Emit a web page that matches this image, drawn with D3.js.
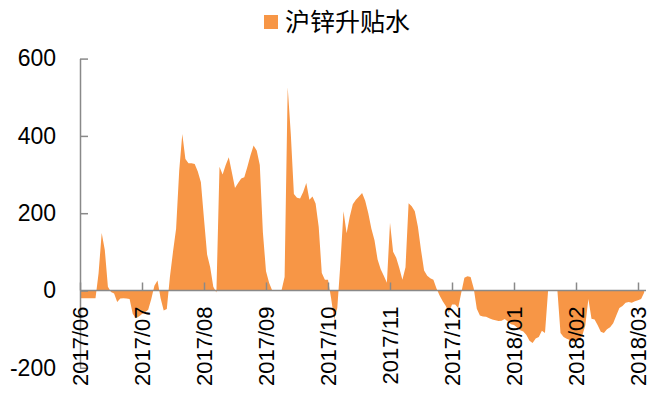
<!DOCTYPE html>
<html>
<head>
<meta charset="utf-8">
<script src="https://cdn.jsdelivr.net/npm/d3@7"></script>
<style>
  html, body { margin: 0; padding: 0; background: #fff; }
  svg { display: block; }
</style>
</head>
<body>
<svg id="chart" width="647" height="401"></svg>
<script>
// Series name shown in the legend
const seriesName = "沪锌升贴水";

// Month labels, one every `pointsPerMonth` observations
const monthLabels = ["2017/06", "2017/07", "2017/08", "2017/09", "2017/10",
                     "2017/11", "2017/12", "2018/01", "2018/02", "2018/03"];
const pointsPerMonth = 20;

// Value axis ticks
const yTicks = [-200, 0, 200, 400, 600];

// Daily premium / discount (元/吨)
const values = [
  -20, -20, -20, -20, -20, -20, 45, 149, 105, 10,
  -4, -8, -30, -21, -20, -21, -22, -60, -72, -67,
  -61, -56, -50, -22, 12, 26, -20, -52, -48, 35,
  100, 160, 310, 405, 340, 329, 329, 327, 308, 280,
  185, 93, 60, 10, -5, 320, 300, 325, 345, 305,
  265, 278, 290, 293, 320, 350, 375, 362, 325, 150,
  50, 20, 0, 0, 0, 0, 35, 526, 405, 250,
  240, 238, 255, 278, 235, 243, 225, 165, 45, 28,
  28, -20, -75, -45, 70, 205, 148, 190, 223, 235,
  243, 252, 232, 200, 160, 130, 80, 55, 38, 20,
  175, 100, 85, 58, 28, 60, 226, 218, 205, 165,
  105, 52, 38, 32, 28, 5, -13, -28, -40, -58,
  -36, -36, -45, -5, 33, 37, 35, 6, -47, -65,
  -67, -68, -72, -75, -77, -79, -78, -74, -80, -87,
  -89, -96, -103, -106, -115, -130, -136, -124, -120, -104,
  -110, 0, 0, 0, 0, -110, -120, -125, -128, -133,
  -130, -128, -118, -90, -22, -73, -75, -90, -107, -110,
  -100, -95, -85, -65, -45, -40, -32, -30, -32, -28,
  -25, -22, -5
];

const W = 647, H = 401;
const fill = "#F79646";
const axisColor = "#898989";
const font = "'Liberation Sans', Arial, sans-serif";

const svg = d3.select("#chart");

const lastTick = (monthLabels.length - 1) * pointsPerMonth;
const x = d3.scaleLinear().domain([0, lastTick]).range([80, 638]);
const y = d3.scaleLinear().domain([-200, 600]).range([367.8, 58.6]);

// Area between the zero line and the series
const area = d3.area()
  .x((d, i) => x(i))
  .y0(y(0))
  .y1(d => y(d));

svg.append("path")
  .datum(values)
  .attr("d", area)
  .attr("fill", fill);

// Value axis (ticks point into the plot)
const yAxis = svg.append("g")
  .attr("transform", `translate(${x(0)},0)`)
  .call(d3.axisLeft(y).tickValues(yTicks).tickSize(-8).tickSizeOuter(0).tickPadding(24)
    .tickFormat(d => String(d)));
yAxis.select(".domain").attr("stroke", axisColor).attr("stroke-width", 1.5);
yAxis.selectAll(".tick line").attr("stroke", axisColor).attr("stroke-width", 1.5);
yAxis.selectAll(".tick text")
  .attr("fill", "#000")
  .style("font-family", font)
  .style("font-size", "23px");

// Category axis on the zero line, labels rotated
const xAxis = svg.append("g")
  .attr("transform", `translate(0,${y(0)})`)
  .call(d3.axisBottom(x)
    .tickValues(d3.range(0, lastTick + 1, pointsPerMonth))
    .tickFormat((d, i) => monthLabels[i])
    .tickSize(-8)
    .tickSizeOuter(0));
xAxis.select(".domain").remove();
xAxis.append("line")
  .attr("x1", x(0)).attr("x2", W - 1)
  .attr("y1", 0).attr("y2", 0)
  .attr("stroke", axisColor).attr("stroke-width", 1.5);
xAxis.selectAll(".tick line").attr("stroke", axisColor).attr("stroke-width", 1.5);
xAxis.selectAll(".tick text")
  .attr("transform", "rotate(-90)")
  .attr("text-anchor", "end")
  .attr("x", -16)
  .attr("y", 0)
  .attr("dy", "0.32em")
  .attr("fill", "#000")
  .style("font-family", font)
  .style("font-size", "22px");

// Legend
const legend = svg.append("g").attr("transform", "translate(264,15)");
legend.append("rect").attr("width", 14).attr("height", 14).attr("fill", fill);
legend.append("text")
  .attr("x", 21).attr("y", 7)
  .attr("dy", "0.36em")
  .attr("fill", "#000")
  .style("font-family", "'Noto Sans CJK SC', sans-serif")
  .style("font-size", "25px")
  .text(seriesName);
</script>
</body>
</html>
